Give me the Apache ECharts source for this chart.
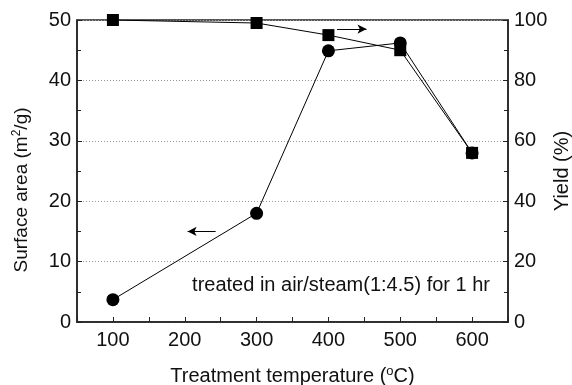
<!DOCTYPE html>
<html>
<head>
<meta charset="utf-8">
<title>Surface area / yield vs treatment temperature</title>
<script src="https://cdn.jsdelivr.net/npm/echarts@6/dist/echarts.min.js"></script>
<style>
    html, body { margin: 0; padding: 0; background: #fff; }
    #charts { width: 572px; height: 385px; }
</style>
</head>
<body>
<div id="charts"></div>
<script>
    // data
    var temps = [100, 300, 400, 500, 600];
    var surfaceArea = [3.7, 18, 44.9, 46.2, 28];   // m2/g, left axis
    var yieldPct = [100, 99, 95, 90, 56];          // %, right axis
    var note = 'treated in air/steam(1:4.5) for 1 hr';
    // arrow annotations [x1, y1, x2, y2] in data units
    var arrowArea = [243, 15, 204, 15];
    var arrowYield = [412, 97, 453, 97];

    var font = 'Liberation Sans';
    var ink = '#111';

    function pairs(xs, ys) {
        return xs.map(function (x, i) { return [x, ys[i]]; });
    }

    var myChart = echarts.init(document.getElementById('charts'));
    var option = {
        animation: false,
        textStyle: { fontFamily: font, color: ink },
        grid: {
            left: 77, right: 64, top: 20, bottom: 63,
            outerBoundsMode: 'none', containLabel: false,
            show: true, borderColor: '#222', borderWidth: 1.5
        },
        xAxis: {
            type: 'value', min: 50, max: 650, interval: 50,
            name: 'Treatment temperature ({sup|o}C)',
            nameLocation: 'middle', nameGap: 43, nameMoveOverlap: false,
            nameTextStyle: {
                fontSize: 20, color: ink, fontFamily: font,
                rich: { sup: { fontSize: 13, padding: [0, 0, 9, 0], fontFamily: font, color: ink } }
            },
            axisLine: { lineStyle: { color: '#222', width: 1.5 } },
            axisTick: { inside: true, length: 5, lineStyle: { color: '#222' } },
            axisLabel: {
                fontSize: 20, color: ink, margin: 8,
                formatter: function (v) { return (v % 100 === 0 && v < 650) ? v : ''; }
            },
            splitLine: { show: false }
        },
        yAxis: [
            {
                type: 'value', min: 0, max: 50, interval: 10,
                name: 'Surface area (m{sup|2}/g)',
                nameLocation: 'middle', nameGap: 45, nameMoveOverlap: false,
                nameTextStyle: {
                    fontSize: 19, color: ink, fontFamily: font,
                    padding: [0, 38, 0, 0],
                    rich: { sup: { fontSize: 12, padding: [0, 0, 9, 0], fontFamily: font, color: ink } }
                },
                axisLine: { show: true, lineStyle: { color: '#222', width: 1.5 } },
                axisTick: { inside: true, length: 5, lineStyle: { color: '#222' } },
                minorTick: { show: true, splitNumber: 2, length: 4, lineStyle: { color: '#222' } },
                axisLabel: { fontSize: 20, color: ink, margin: 6 },
                splitLine: { show: true, lineStyle: { color: '#999', type: [1, 2], width: 1 } }
            },
            {
                type: 'value', min: 0, max: 100, interval: 20,
                name: 'Yield (%)',
                nameLocation: 'middle', nameGap: 44, nameRotate: 90, nameMoveOverlap: false,
                nameTextStyle: { fontSize: 20, color: ink, fontFamily: font },
                axisLine: { show: true, lineStyle: { color: '#222', width: 1.5 } },
                axisTick: { inside: true, length: 5, lineStyle: { color: '#222' } },
                minorTick: { show: true, splitNumber: 2, length: 4, lineStyle: { color: '#222' } },
                axisLabel: { fontSize: 20, color: ink, margin: 6 },
                splitLine: { show: false }
            }
        ],
        graphic: [
            {
                type: 'text', right: 82, top: 275,
                style: { text: note, font: '20px "Liberation Sans"', fill: ink }
            }
        ],
        series: [
            {
                name: 'Surface area', type: 'line', yAxisIndex: 0,
                data: pairs(temps, surfaceArea),
                symbol: 'circle', symbolSize: 13,
                lineStyle: { color: '#000', width: 1 },
                itemStyle: { color: '#000' },
                markLine: {
                    silent: true, symbol: ['none', 'arrow'], symbolSize: [7, 9],
                    label: { show: false },
                    lineStyle: { color: '#000', width: 1, type: 'solid' },
                    data: [[{ coord: [arrowArea[0], arrowArea[1]] }, { coord: [arrowArea[2], arrowArea[3]] }]]
                }
            },
            {
                name: 'Yield', type: 'line', yAxisIndex: 1,
                data: pairs(temps, yieldPct),
                symbol: 'rect', symbolSize: 12,
                lineStyle: { color: '#000', width: 1 },
                itemStyle: { color: '#000' },
                markLine: {
                    silent: true, symbol: ['none', 'arrow'], symbolSize: [7, 9],
                    label: { show: false },
                    lineStyle: { color: '#000', width: 1, type: 'solid' },
                    data: [[{ coord: [arrowYield[0], arrowYield[1]] }, { coord: [arrowYield[2], arrowYield[3]] }]]
                }
            }
        ]
    };
    myChart.setOption(option);
</script>
</body>
</html>
